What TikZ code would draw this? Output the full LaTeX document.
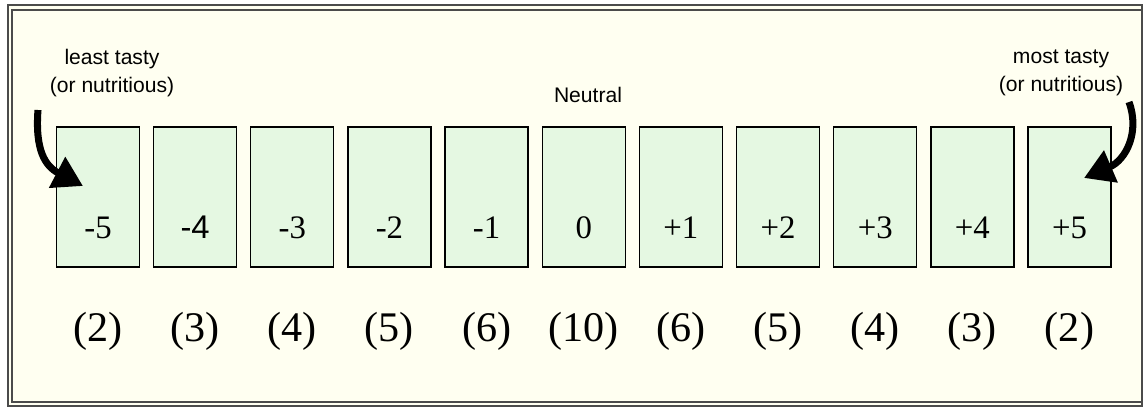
\documentclass[tikz,border=0pt]{standalone}
\usepackage{fontspec}
\setmainfont{Liberation Serif}
\setsansfont{Liberation Sans}
\usetikzlibrary{arrows.meta,positioning}
\definecolor{cream}{RGB}{255,255,241}
\definecolor{boxgreen}{RGB}{229,248,226}
\definecolor{framegray}{RGB}{75,75,75}

\begin{document}
\begin{tikzpicture}[x=0.03cm,y=-0.03cm,
        scorebox/.style={draw=black,line width=1.1pt,fill=boxgreen,
          minimum width=2.49cm,minimum height=4.2cm,inner sep=0pt},
        val/.style={font=\fontsize{28}{30}\selectfont,inner sep=0pt},
        cnt/.style={font=\fontsize{36}{38}\selectfont,inner sep=0pt},
        tastetag/.style={font=\sffamily\fontsize{18}{24}\selectfont,align=center,inner sep=0pt},
        pointer/.style={line width=6pt,-{Triangle[length=0.88cm,width=1.0cm]}}]
      \def\pitch{97.15} % distance between box centres
      \useasboundingbox (0,0) rectangle (1145,408);
      % frame
      \fill[cream] (8,5) rectangle (1142,406);
      \draw[framegray,line width=1.4pt] (8,5) rectangle (1142,406);
      \draw[framegray,line width=1.1pt] (12,10) rectangle (1142,402);
      % the eleven score boxes with their counts
      \foreach \v/\n/\f [count=\i] in {-5/2/,-4/3/\sffamily,-3/4/,-2/5/,-1/6/,
          0/10/,+1/6/,+2/5/,+3/4/,+4/3/,+5/2/}{
        \pgfmathsetmacro{\xc}{98+(\i-1)*\pitch}
        \node[scorebox] (b\i) at (\xc,197) {};
        \node[val,font=\f\fontsize{28}{30}\selectfont,above=0.87cm of b\i.south] (v\i) {\v};
        \node[cnt] (c\i) at (\xc,331) {(\n)};
      }
      \node[tastetag] (least) at (112,73) {least tasty\\(or nutritious)};
      \node[tastetag] (most) at (1061,73) {most tasty\\(or nutritious)};
      \node[tastetag] (neutral) at (588,95) {Neutral};
      % curved pointers
      \coordinate (lstart) at (38,110);
      \coordinate (ltip) at (83,186);
      \coordinate (rstart) at (1129,102);
      \coordinate (rtip) at (1084,178);
      \draw[pointer] (lstart) .. controls (35,150) and (45,166) .. (ltip);
      \draw[pointer] (rstart) .. controls (1140,132) and (1126,160) .. (rtip);
\end{tikzpicture}
\end{document}
